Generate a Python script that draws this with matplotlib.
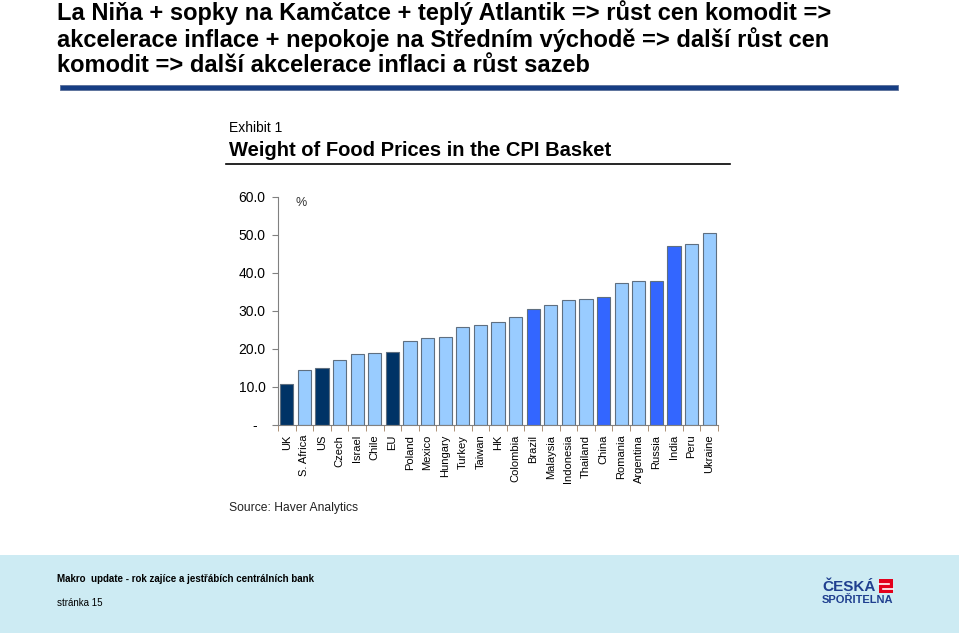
import matplotlib
matplotlib.use("Agg")
import matplotlib.pyplot as plt
from matplotlib.patches import Rectangle

countries = ["UK", "S. Africa", "US", "Czech", "Israel", "Chile", "EU", "Poland",
             "Mexico", "Hungary", "Turkey", "Taiwan", "HK", "Colombia", "Brazil",
             "Malaysia", "Indonesia", "Thailand", "China", "Romania", "Argentina",
             "Russia", "India", "Peru", "Ukraine"]
food_weight = [10.9, 14.4, 14.9, 17.1, 18.6, 19.0, 19.3, 22.1, 22.8, 23.2, 25.9,
               26.2, 27.0, 28.3, 30.4, 31.5, 32.8, 33.1, 33.7, 37.5, 37.9, 38.0,
               47.2, 47.6, 50.4]
groups = ["dev", "other", "dev", "other", "other", "other", "dev", "other",
          "other", "other", "other", "other", "other", "other", "bric",
          "other", "other", "other", "bric", "other", "other", "bric", "bric",
          "other", "other"]
y_ticks = [0, 10, 20, 30, 40, 50, 60]

group_colors = {"dev": "#003366", "bric": "#3366FF", "other": "#99CCFF"}

title_lines = ["La Niňa + sopky na Kamčatce + teplý Atlantik => růst cen komodit =>",
               "akcelerace inflace + nepokoje na Středním východě => další růst cen",
               "komodit => další akcelerace inflaci a růst sazeb"]

W, H = 959, 637
fig = plt.figure(figsize=(W / 100, H / 100), dpi=100)
plt.rcParams["font.family"] = ["Liberation Sans", "DejaVu Sans"]

# overlay in pixel coordinates for slide decoration
bg = fig.add_axes([0, 0, 1, 1])
bg.set_xlim(0, W)
bg.set_ylim(H, 0)
bg.axis("off")

# slide title
for i, line in enumerate(title_lines):
    bg.text(57, 13 + i * 26.5, line, fontsize=17, fontweight="bold",
            va="center", ha="left", color="black")
bg.add_patch(Rectangle((60, 85), 838, 5, facecolor="#173E84", edgecolor="#5a6f99", lw=0.6))

# exhibit header
bg.text(229, 128, "Exhibit 1", fontsize=10, va="center", ha="left")
bg.text(229, 151, "Weight of Food Prices in the CPI Basket", fontsize=14.5,
        fontweight="bold", va="center", ha="left")
bg.plot([226, 730], [163.5, 163.5], color="black", lw=1.2)
bg.text(296, 203, "%", fontsize=9, va="center", ha="left", color="#333333")
bg.text(229, 508, "Source: Haver Analytics", fontsize=8.7, va="center", ha="left",
        color="#222222")

# footer band
bg.add_patch(Rectangle((0, 555), W, 78, facecolor="#CDEBF3", edgecolor="none"))
bg.text(57, 579, "Makro  update - rok zajíce a jestřábích centrálních bank",
        fontsize=7, fontweight="bold", va="center", ha="left",
        family=["Liberation Sans Narrow", "Liberation Sans"])
bg.text(57, 603, "stránka 15", fontsize=7, va="center", ha="left",
        family=["Liberation Sans Narrow", "Liberation Sans"])

# logo
bg.text(822, 587, "ČESKÁ", fontsize=11, fontweight="bold", color="#1F3F8F",
        va="center", ha="left")
bg.text(822, 600, "SPOŘITELNA", fontsize=8, fontweight="bold", color="#1F3F8F",
        va="center", ha="left")
bg.add_patch(Rectangle((879, 579), 14, 14, facecolor="#E3001B", edgecolor="none"))
bg.plot([879, 889], [584, 584], color="white", lw=1.2)
bg.plot([883, 893], [588.5, 588.5], color="white", lw=1.2)

# bar chart
left, right, top, bottom = 278, 718, 197, 425
ax = fig.add_axes([left / W, 1 - bottom / H, (right - left) / W, (bottom - top) / H])
x = list(range(len(countries)))
colors = [group_colors[g] for g in groups]
ax.bar(x, food_weight, width=0.76, color=colors, edgecolor="#5f6f80", linewidth=0.8)
ax.set_xlim(-0.5, len(countries) - 0.5)
ax.set_ylim(0, 60)
ax.set_yticks(y_ticks)
ax.set_yticklabels(["-  " if v == 0 else f"{v:.1f}" for v in y_ticks], fontsize=10)
ax.set_xticks(x)
ax.set_xticklabels(countries, rotation=90, fontsize=8)
ax.set_xticks([i - 0.5 for i in range(len(countries) + 1)], minor=True)
ax.tick_params(axis="x", which="major", length=0, pad=7)
ax.tick_params(axis="x", which="minor", length=4, color="#a08060", direction="out")
ax.tick_params(axis="y", length=4, color="#808080", direction="out", pad=5)
for side in ["top", "right"]:
    ax.spines[side].set_visible(False)
ax.spines["left"].set_color("#808080")
ax.spines["bottom"].set_color("#808080")
ax.set_facecolor("none")

fig.savefig("out.png", dpi=100)
